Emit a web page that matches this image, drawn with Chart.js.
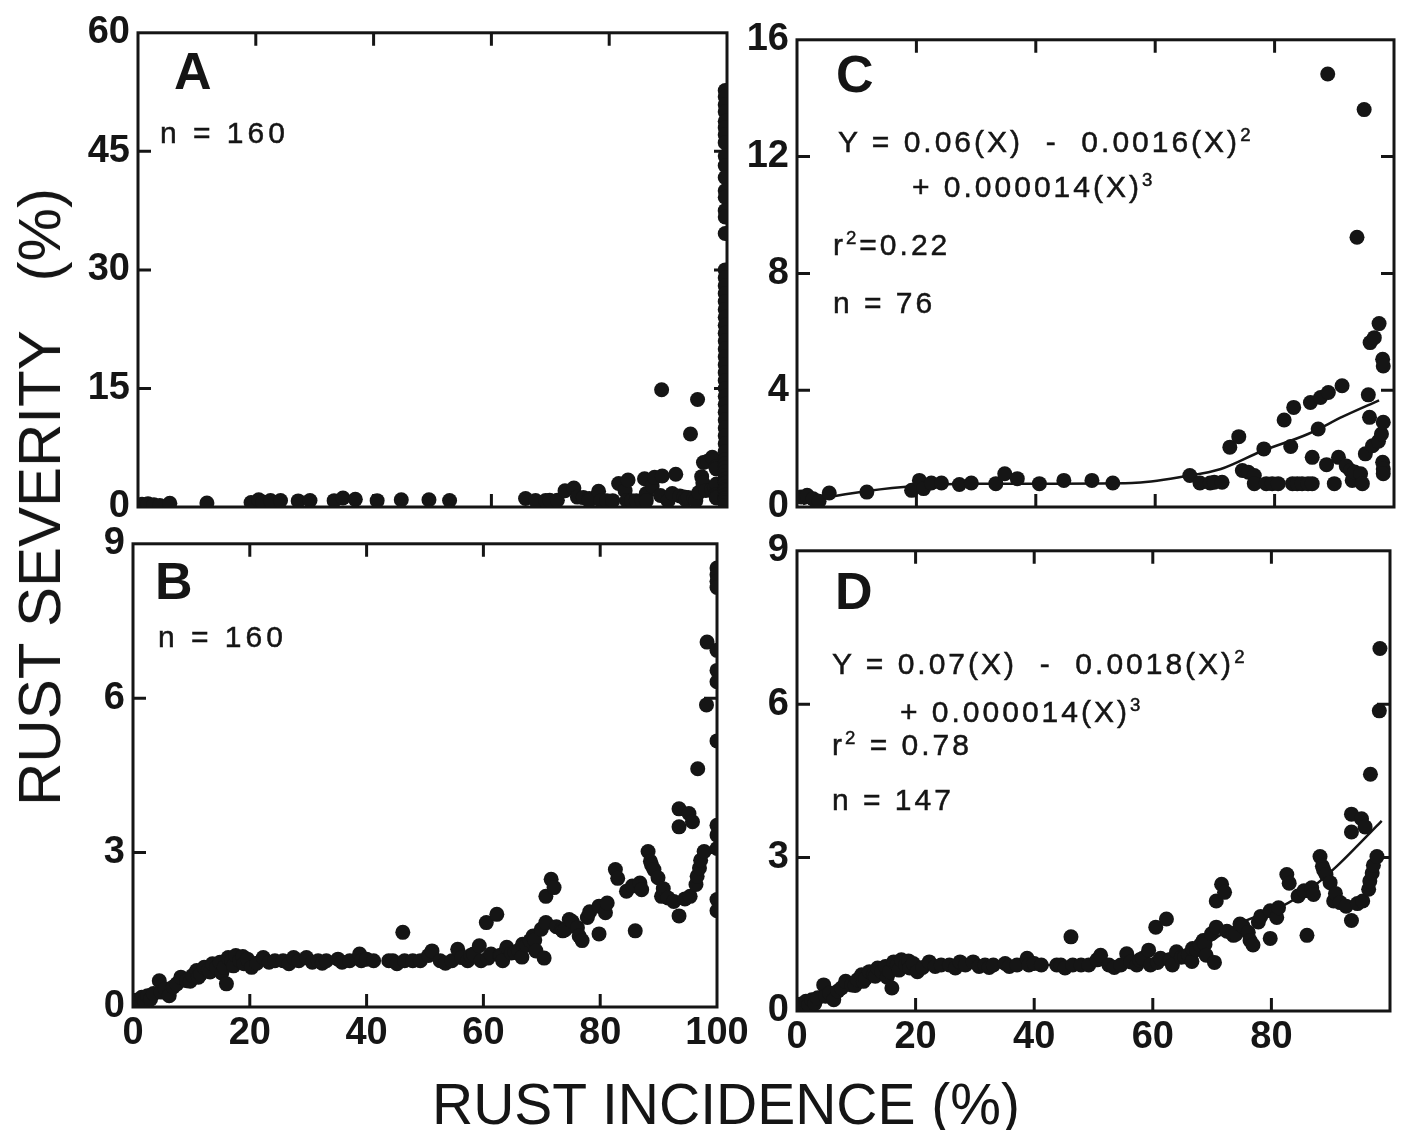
<!DOCTYPE html>
<html>
<head>
<meta charset="utf-8">
<title>Rust severity vs incidence</title>
<script src="https://cdn.jsdelivr.net/npm/chart.js@4.4.0/dist/chart.umd.min.js"></script>
<style>
    html, body { margin: 0; padding: 0; background: #fff; }
    body { width: 1403px; height: 1130px; position: relative; overflow: hidden;
           font-family: 'Liberation Sans', Arial, sans-serif; color: #151515; }
    canvas { position: absolute; }
    .txt { position: absolute; white-space: pre; line-height: 1; color: #151515; z-index: 5; }
    .letter { font-size: 52px; font-weight: bold; }
    .note { font-size: 30px; letter-spacing: 3px; -webkit-text-stroke: 0.5px #151515; }
    .sup { font-size: 0.62em; vertical-align: 0.6em; }
    .ytitle { left: 40px; top: 497px; font-size: 60px; transform: translate(-50%, -50%) rotate(-90deg); }
    .xtitle { left: 726px; top: 1076px; font-size: 57px; transform: translateX(-50%); }
</style>
</head>
<body>
<canvas id="panelA"></canvas>
<canvas id="panelB"></canvas>
<canvas id="panelC"></canvas>
<canvas id="panelD"></canvas>

<div class="txt ytitle">RUST SEVERITY   (%)</div>
<div class="txt xtitle">RUST INCIDENCE (%)</div>

<div class="txt letter" style="left:174px;top:45px;">A</div>
<div class="txt note" style="left:160px;top:118px;letter-spacing:4px;">n = 160</div>
<div class="txt letter" style="left:155px;top:555px;">B</div>
<div class="txt note" style="left:158px;top:622px;letter-spacing:4px;">n = 160</div>
<div class="txt letter" style="left:836px;top:48px;">C</div>
<div class="txt note" style="left:838px;top:126px;">Y = 0.06(X)  -  0.0016(X)<span class="sup">2</span></div>
<div class="txt note" style="left:912px;top:171px;">+ 0.000014(X)<span class="sup">3</span></div>
<div class="txt note" style="left:833px;top:229px;">r<span class="sup">2</span>=0.22</div>
<div class="txt note" style="left:833px;top:288px;">n = 76</div>
<div class="txt letter" style="left:835px;top:565px;">D</div>
<div class="txt note" style="left:832px;top:648px;">Y = 0.07(X)  -  0.0018(X)<span class="sup">2</span></div>
<div class="txt note" style="left:900px;top:696px;">+ 0.000014(X)<span class="sup">3</span></div>
<div class="txt note" style="left:832px;top:729px;">r<span class="sup">2</span> = 0.78</div>
<div class="txt note" style="left:832px;top:785px;">n = 147</div>

<script>
(function () {
    'use strict';

    // ---- data ----
    var xTicks = [0, 20, 40, 60, 80, 100];
    var xLabelsB = [0, 20, 40, 60, 80, 100];
    var xLabelsD = [0, 20, 40, 60, 80];
    var yTicksA = [0, 15, 30, 45, 60];
    var yTicksB = [0, 3, 6, 9];
    var yTicksC = [0, 4, 8, 12, 16];
    var yTicksD = [0, 3, 6, 9];

    // plots with incidence below 100% (panel C, also shown in A)
    var incidenceC = [0.7, 1.7, 2.7, 3.7, 5.4, 11.7, 19.2, 20.5, 21.2, 22.5, 24.2, 27.2, 29.2, 33.3, 34.8,
        36.9, 40.6, 44.7, 49.4, 52.9, 65.8, 67.5, 69.2, 69.9, 71.2, 72.5, 74.0, 74.6, 75.6, 76.6,
        76.6, 78.2, 78.6, 79.6, 80.6, 81.6, 82.7, 83.2, 83.0, 83.8, 84.6, 85.6, 86.0, 86.3, 86.3,
        87.3, 87.7, 88.7, 89.0, 88.9, 90.0, 90.7, 91.3, 92.0, 92.7, 93.0, 93.4, 93.8, 94.4, 94.7,
        95.2, 95.0, 95.7, 95.9, 96.0, 96.4, 96.7, 97.4, 97.5, 97.9, 98.1, 98.2, 98.2, 98.1, 98.2, 98.2];
    var severityC = [0.34, 0.40, 0.28, 0.20, 0.48, 0.51, 0.57, 0.91, 0.63, 0.82, 0.82, 0.77, 0.82, 0.80, 1.14,
        0.97, 0.80, 0.91, 0.91, 0.82, 1.08, 0.82, 0.82, 0.85, 0.85, 2.05, 2.41, 1.25, 1.19, 1.08,
        0.80, 1.99, 0.80, 0.80, 0.80, 2.98, 2.07, 3.41, 0.80, 0.80, 0.80, 0.80, 3.58, 1.70, 0.80,
        2.67, 3.75, 1.45, 3.92, 14.83, 0.80, 1.70, 4.15, 1.40, 1.25, 0.91, 1.20, 9.24, 1.14, 0.80,
        1.82, 13.61, 3.84, 3.07, 5.63, 2.10, 5.80, 2.25, 6.28, 2.50, 5.06, 4.83, 2.90, 1.53, 1.30, 1.14];
    // plots at 100% incidence in A
    var severityA100 = [52.7, 51.9, 50.9, 50.0, 48.8, 48.0, 47.1, 46.1, 44.4, 43.2, 41.7, 40.0, 39.2, 37.5,
        36.7, 34.6, 30.0, 29.0, 28.0, 27.0, 26.0, 25.0, 24.0, 23.0, 22.0, 21.0, 20.0, 19.0, 18.0,
        17.0, 16.0, 15.0, 14.0, 13.0, 12.0, 11.0, 10.0, 9.0, 8.0, 7.0, 6.0, 5.5, 5.0, 4.5, 4.0,
        3.5, 3.2, 3.0, 2.5, 2.2, 2.0, 1.5, 1.2, 1.0, 0.8, 0.5, 0.2];

    // plots with incidence below 100% (panel D, also shown in B)
    var incidenceD = [0.5, 1.0, 1.5, 2.0, 2.5, 3.0, 3.5, 4.5, 4.8, 5.5, 6.2, 6.9, 7.5, 8.2, 9.2, 9.8,
        10.2, 10.9, 11.2, 11.6, 12.2, 12.9, 13.2, 13.6, 14.3, 14.9, 15.2, 15.6, 16.0, 16.3, 16.9,
        17.2, 17.6, 18.3, 18.8, 19.0, 19.6, 20.3, 21.2, 22.3, 23.3, 24.3, 25.7, 26.7, 27.5, 28.4,
        29.7, 30.7, 31.7, 32.4, 33.1, 35.1, 35.8, 37.1, 38.8, 39.1, 40.0, 41.2, 43.8, 44.5, 45.2,
        46.2, 46.5, 47.9, 49.2, 50.6, 51.2, 52.6, 53.5, 54.6, 55.6, 56.3, 57.3, 57.8, 58.3, 59.3,
        59.6, 60.5, 60.8, 61.3, 62.3, 62.8, 63.0, 63.3, 64.0, 64.8, 65.4, 66.0, 66.6, 66.7, 67.4,
        68.0, 68.5, 68.8, 69.0, 69.9, 70.4, 70.7, 70.7, 71.6, 72.1, 72.5, 73.4, 73.6, 74.0, 74.7,
        75.2, 76.1, 76.4, 76.9, 77.8, 78.2, 79.8, 79.8, 80.9, 81.2, 82.6, 83.0, 84.5, 85.5, 86.0,
        86.8, 87.1, 88.2, 88.6, 88.8, 89.2, 89.9, 90.5, 90.8, 91.6, 92.6, 93.5, 93.5, 93.5, 94.5,
        95.2, 95.4, 95.8, 96.4, 96.6, 96.7, 97.0, 97.2, 97.8, 98.2, 98.3];
    var severityD = [0.13, 0.08, 0.19, 0.12, 0.22, 0.15, 0.26, 0.51, 0.29, 0.35, 0.22, 0.39, 0.45, 0.58, 0.51, 0.50,
        0.61, 0.71, 0.58, 0.64, 0.77, 0.71, 0.68, 0.84, 0.77, 0.87, 0.66, 0.77, 0.45, 0.96, 0.90,
        0.80, 1.00, 0.90, 0.98, 0.84, 0.93, 0.77, 0.85, 0.96, 0.87, 0.90, 0.90, 0.84, 0.96, 0.90,
        0.96, 0.87, 0.90, 0.85, 0.90, 0.93, 0.87, 0.90, 1.03, 0.90, 0.93, 0.90, 0.90, 0.90, 0.84,
        1.45, 0.90, 0.90, 0.90, 1.00, 1.09, 0.90, 0.85, 0.90, 1.12, 0.96, 0.90, 1.00, 1.03, 1.19,
        0.90, 1.64, 0.95, 1.03, 1.80, 1.00, 1.00, 0.90, 1.16, 1.05, 1.06, 1.10, 0.97, 1.22, 1.20,
        1.29, 1.38, 1.30, 1.09, 1.51, 0.95, 1.64, 2.15, 2.48, 2.32, 1.56, 1.51, 1.48, 1.50, 1.70,
        1.66, 1.54, 1.38, 1.29, 1.74, 1.85, 1.96, 1.42, 1.83, 2.02, 2.67, 2.50, 2.25, 2.35, 1.48,
        2.41, 2.28, 3.02, 2.83, 2.76, 2.67, 2.51, 2.15, 2.30, 2.12, 2.05, 1.77, 3.85, 3.50, 2.10,
        3.76, 2.15, 3.60, 2.38, 2.54, 4.63, 2.70, 2.85, 3.02, 5.87, 7.09];
    // plots at 100% incidence in B
    var severityB100 = [8.53, 8.40, 8.27, 8.15, 6.93, 6.54, 6.32, 5.17, 3.53, 3.34, 3.08, 2.09, 1.87];

    // fitted curves
    var fitXC = [1, 5.4, 11.8, 19.7, 29.5, 43.3, 56.1, 65, 71, 77.7, 85.6, 91.5, 97.5];
    var fitYC = [0.10, 0.34, 0.55, 0.72, 0.80, 0.80, 0.82, 1.05, 1.30, 1.90, 2.50, 3.10, 3.65];
    var fitXD = [0, 3.5, 8.2, 13.6, 19, 27, 37, 50.6, 60.7, 66, 70.2, 75.8, 81.5, 87.1, 91, 94.9, 98.6];
    var fitYD = [0.06, 0.26, 0.55, 0.77, 0.90, 0.93, 0.90, 0.90, 0.93, 1.08, 1.40, 1.77, 2.03, 2.44, 2.83, 3.28, 3.72];

    var INK = '#151515';
    var PAD_L = 110, PAD_T = 25, PAD_R = 40, PAD_B = 65;
    var TICK_LEN = 13;

    function pairs(xs, ys) {
        var out = [];
        for (var i = 0; i < xs.length; i++) {
            out.push({ x: xs[i], y: ys[i] });
        }
        return out;
    }

    function column(x, ys) {
        var out = [];
        for (var i = 0; i < ys.length; i++) {
            out.push({ x: x, y: ys[i] });
        }
        return out;
    }

    // frame and inward tick marks on all four sides
    var frameTicks = {
        id: 'frameTicks',
        beforeDatasetsDraw: function (chart, args, opts) {
            var ctx = chart.ctx;
            var a = chart.chartArea;
            var xs = chart.scales.x, ys = chart.scales.y;
            ctx.save();
            ctx.strokeStyle = INK;
            ctx.lineWidth = 3;
            ctx.strokeRect(a.left, a.top, a.right - a.left, a.bottom - a.top);
            ctx.beginPath();
            opts.xTicks.forEach(function (v) {
                var px = xs.getPixelForValue(v);
                if (px <= a.left + 2 || px >= a.right - 2) { return; }
                ctx.moveTo(px, a.bottom); ctx.lineTo(px, a.bottom - TICK_LEN);
                ctx.moveTo(px, a.top); ctx.lineTo(px, a.top + TICK_LEN);
            });
            opts.yTicks.forEach(function (v) {
                var py = ys.getPixelForValue(v);
                if (py <= a.top + 2 || py >= a.bottom - 2) { return; }
                ctx.moveTo(a.left, py); ctx.lineTo(a.left + TICK_LEN, py);
                ctx.moveTo(a.right, py); ctx.lineTo(a.right - TICK_LEN, py);
            });
            ctx.stroke();
            ctx.restore();
        }
    };

    function tickFont() {
        return { family: "'Liberation Sans', Arial, sans-serif", size: 38, weight: 'bold' };
    }

    function makePanel(id, box, points, fit, yTicks, xLabels) {
        var canvas = document.getElementById(id);
        var w = box.right - box.left + PAD_L + PAD_R;
        var h = box.bottom - box.top + PAD_T + PAD_B;
        canvas.width = w;
        canvas.height = h;
        canvas.style.width = w + 'px';
        canvas.style.height = h + 'px';
        canvas.style.left = (box.left - PAD_L) + 'px';
        canvas.style.top = (box.top - PAD_T) + 'px';

        var datasets = [];
        if (fit) {
            datasets.push({
                type: 'line',
                data: fit,
                borderColor: INK,
                borderWidth: 2.5,
                pointRadius: 0,
                fill: false,
                cubicInterpolationMode: 'monotone',
                order: 2
            });
        }
        datasets.push({
            data: points,
            pointRadius: 7.5,
            pointHoverRadius: 7.5,
            backgroundColor: INK,
            borderWidth: 0,
            order: 1
        });

        var labelVals = xLabels || xTicks;

        new Chart(canvas, {
            type: 'scatter',
            data: { datasets: datasets },
            options: {
                responsive: false,
                animation: false,
                events: [],
                layout: { padding: { left: 0, top: PAD_T, right: PAD_R, bottom: 0 } },
                plugins: {
                    legend: { display: false },
                    tooltip: { enabled: false },
                    frameTicks: { xTicks: xTicks, yTicks: yTicks }
                },
                scales: {
                    x: {
                        type: 'linear',
                        min: 0,
                        max: 100,
                        grid: { display: false, drawTicks: false },
                        border: { display: false },
                        afterBuildTicks: function (s) {
                            s.ticks = labelVals.map(function (v) { return { value: v }; });
                        },
                        afterFit: function (s) { s.height = PAD_B; },
                        ticks: {
                            display: !!xLabels,
                            color: INK,
                            font: tickFont(),
                            padding: 4,
                            maxRotation: 0,
                            autoSkip: false
                        }
                    },
                    y: {
                        type: 'linear',
                        min: yTicks[0],
                        max: yTicks[yTicks.length - 1],
                        grid: { display: false, drawTicks: false },
                        border: { display: false },
                        afterBuildTicks: function (s) {
                            s.ticks = yTicks.map(function (v) { return { value: v }; });
                        },
                        afterFit: function (s) { s.width = PAD_L; },
                        ticks: {
                            color: INK,
                            font: tickFont(),
                            padding: 8,
                            autoSkip: false
                        }
                    }
                }
            },
            plugins: [frameTicks]
        });
    }

    var pointsC = pairs(incidenceC, severityC);
    var pointsA = pointsC.concat(column(99.7, severityA100));
    var pointsD = pairs(incidenceD, severityD);
    var pointsB = pointsD.concat(column(100, severityB100));

    makePanel('panelA', { left: 138, top: 27, right: 727, bottom: 507 }, pointsA, null, yTicksA, null);
    makePanel('panelB', { left: 133, top: 538, right: 717, bottom: 1007 }, pointsB, null, yTicksB, xLabelsB);
    makePanel('panelC', { left: 797, top: 34, right: 1394, bottom: 507 }, pointsC, pairs(fitXC, fitYC), yTicksC, null);
    makePanel('panelD', { left: 797, top: 545, right: 1390, bottom: 1011 }, pointsD, pairs(fitXD, fitYD), yTicksD, xLabelsD);
})();
</script>
</body>
</html>
